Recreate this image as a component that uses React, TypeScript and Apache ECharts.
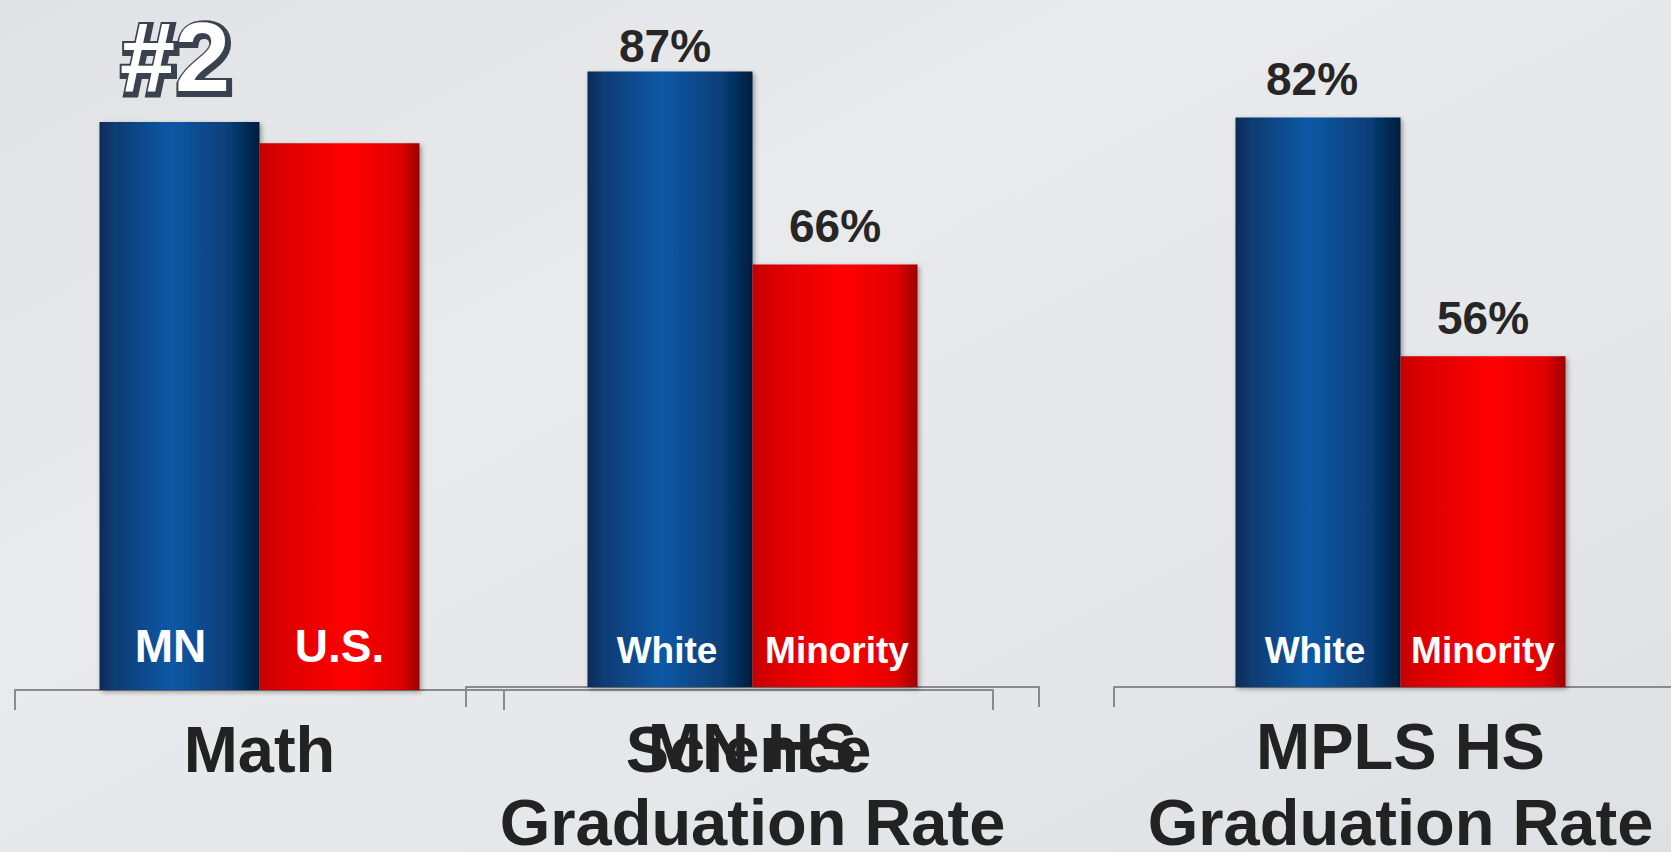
import React, { useEffect, useRef } from "react";
import * as echarts from "echarts";

// ---- data ----
const mathCategories = ["Math", "Science"];
const mathSeriesNames = ["MN", "U.S."];
const mathMN = [81.8, null];
const mathUS = [79.5, null];

const mnhsCategories = ["MN HS\nGraduation Rate"];
const mnhsSeriesNames = ["White", "Minority"];
const mnhsWhite = [87];
const mnhsMinority = [66];

const mplsCategories = ["MPLS HS\nGraduation Rate"];
const mplsSeriesNames = ["White", "Minority"];
const mplsWhite = [82];
const mplsMinority = [56];

const rankText = "#2";
const yMin = 20;
const yMax = 90;

const FONT = "'Liberation Sans', Arial, Helvetica, sans-serif";

function blueGrad() {
  return new echarts.graphic.LinearGradient(0, 0, 1, 0, [
    { offset: 0, color: "#0a2b55" },
    { offset: 0.08, color: "#0b3a70" },
    { offset: 0.45, color: "#0759a6" },
    { offset: 0.82, color: "#073d76" },
    { offset: 1, color: "#021d3b" },
  ]);
}
function redGrad() {
  return new echarts.graphic.LinearGradient(0, 0, 1, 0, [
    { offset: 0, color: "#c40000" },
    { offset: 0.12, color: "#da0000" },
    { offset: 0.55, color: "#ff0505" },
    { offset: 0.88, color: "#e00000" },
    { offset: 1, color: "#9c0000" },
  ]);
}

const barShadow = {
  shadowBlur: 5,
  shadowColor: "rgba(0,0,0,0.35)",
  shadowOffsetX: 2,
  shadowOffsetY: 2,
};

function nameLabel(fontSize: number, distance: number, dx: number) {
  return {
    show: true,
    position: "insideBottom",
    distance,
    offset: [dx, 0],
    formatter: "{a}",
    color: "#ffffff",
    fontFamily: FONT,
    fontWeight: "bold",
    fontSize,
    lineHeight: fontSize,
  };
}

function valueMark(distance: number, dx: number) {
  return {
    symbol: "circle",
    symbolSize: 0,
    silent: true,
    label: {
      show: true,
      position: "top",
      distance,
      offset: [dx, 0],
      formatter: (p: any) => p.value + "%",
      color: "#262626",
      fontFamily: FONT,
      fontWeight: "bold",
      fontSize: 46,
      lineHeight: 46,
    },
    data: [{ type: "max" }],
  };
}

function xAxisCfg(gridIndex: number, data: string[]) {
  return {
    type: "category",
    gridIndex,
    data,
    axisLine: { show: true, lineStyle: { color: "#8a8a8a", width: 2 } },
    axisTick: { show: true, length: 20, lineStyle: { color: "#8a8a8a", width: 2 } },
    axisLabel: {
      show: true,
      margin: 21,
      color: "#222222",
      fontFamily: FONT,
      fontWeight: "bold",
      fontSize: 65,
      lineHeight: 76,
      interval: 0,
    },
    splitLine: { show: false },
  };
}

function yAxisCfg(gridIndex: number) {
  return {
    type: "value",
    gridIndex,
    min: yMin,
    max: yMax,
    show: false,
    splitLine: { show: false },
  };
}

export default function App() {
  const ref = useRef<HTMLDivElement>(null);

  useEffect(() => {
    if (!ref.current) return;
    const chart = echarts.init(ref.current, undefined, { renderer: "svg" });

    const rankStyle = {
      text: rankText,
      fontFamily: FONT,
      fontWeight: "bold",
      fontSize: 99,
      textAlign: "center",
      textVerticalAlign: "middle",
      align: "center",
      verticalAlign: "middle",
    };

    const option: any = {
      animation: false,
      backgroundColor: new echarts.graphic.LinearGradient(0, 0, 1, 1, [
        { offset: 0, color: "#e1e2e5" },
        { offset: 0.35, color: "#e9eaec" },
        { offset: 0.65, color: "#e6e7ea" },
        { offset: 1, color: "#dfe0e3" },
      ]),
      grid: [
        { left: 15, right: 678, top: 46.7, bottom: 162, outerBoundsMode: "none" },
        { left: 466, right: 632, top: 44, bottom: 165, outerBoundsMode: "none" },
        { left: 1114, right: -16, top: 44, bottom: 165, outerBoundsMode: "none" },
      ],
      xAxis: [
        xAxisCfg(0, mathCategories),
        xAxisCfg(1, mnhsCategories),
        xAxisCfg(2, mplsCategories),
      ],
      yAxis: [yAxisCfg(0), yAxisCfg(1), yAxisCfg(2)],
      graphic: [
        {
          type: "text",
          x: 177,
          y: 58,
          silent: true,
          style: {
            ...rankStyle,
            fill: "#3a4250",
            stroke: "#3a4250",
            lineWidth: 8,
            shadowBlur: 9,
            shadowColor: "rgba(0,0,0,0.45)",
            shadowOffsetX: 2,
            shadowOffsetY: 3,
          },
        },
        {
          type: "text",
          x: 175,
          y: 56,
          silent: true,
          style: {
            ...rankStyle,
            fill: "#ffffff",
          },
        },
      ],
      series: [
        {
          name: mathSeriesNames[0],
          type: "bar",
          xAxisIndex: 0,
          yAxisIndex: 0,
          data: mathMN,
          barWidth: 160,
          barGap: "0%",
          itemStyle: { color: blueGrad(), ...barShadow },
          label: nameLabel(46, 21, -9),
        },
        {
          name: mathSeriesNames[1],
          type: "bar",
          xAxisIndex: 0,
          yAxisIndex: 0,
          data: mathUS,
          barWidth: 160,
          barGap: "0%",
          itemStyle: { color: redGrad(), ...barShadow },
          label: nameLabel(46, 21, 0),
        },
        {
          name: mnhsSeriesNames[0],
          type: "bar",
          xAxisIndex: 1,
          yAxisIndex: 1,
          data: mnhsWhite,
          barWidth: 165,
          barGap: "0%",
          itemStyle: { color: blueGrad(), ...barShadow },
          label: nameLabel(37, 18, -3),
          markPoint: valueMark(3, -5),
        },
        {
          name: mnhsSeriesNames[1],
          type: "bar",
          xAxisIndex: 1,
          yAxisIndex: 1,
          data: mnhsMinority,
          barWidth: 165,
          barGap: "0%",
          itemStyle: { color: redGrad(), ...barShadow },
          label: nameLabel(37, 18, 2),
          markPoint: valueMark(15, 0),
        },
        {
          name: mplsSeriesNames[0],
          type: "bar",
          xAxisIndex: 2,
          yAxisIndex: 2,
          data: mplsWhite,
          barWidth: 165,
          barGap: "0%",
          itemStyle: { color: blueGrad(), ...barShadow },
          label: nameLabel(37, 18, -3),
          markPoint: valueMark(15, -6),
        },
        {
          name: mplsSeriesNames[1],
          type: "bar",
          xAxisIndex: 2,
          yAxisIndex: 2,
          data: mplsMinority,
          barWidth: 165,
          barGap: "0%",
          itemStyle: { color: redGrad(), ...barShadow },
          label: nameLabel(37, 18, 0),
          markPoint: valueMark(15, 0),
        },
      ],
    };

    chart.setOption(option);
    return () => chart.dispose();
  }, []);

  return (
    <div
      ref={ref}
      style={{ position: "fixed", left: 0, top: 0, width: 1671, height: 852 }}
    />
  );
}
